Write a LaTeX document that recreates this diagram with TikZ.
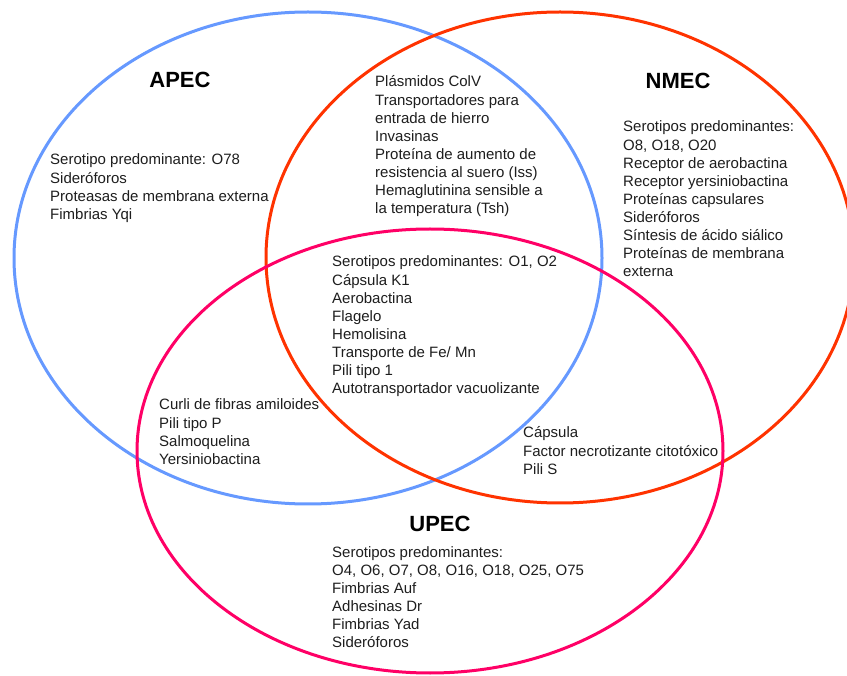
\documentclass[tikz,border=0pt]{standalone}
\usepackage{fontspec}
\setmainfont{Liberation Sans}
\definecolor{apecblue}{RGB}{102,153,255}
\definecolor{nmecred}{RGB}{255,51,0}
\definecolor{upecpink}{RGB}{255,0,102}
\definecolor{txtgray}{RGB}{30,30,30}
\newcommand\blocktext[1]{\parbox[t]{280pt}{\raggedright\fontsize{15}{18.1}\selectfont #1}}
\tikzset{
  ring/.style={line width=3pt},
  listtext/.style={anchor=base west, inner sep=0pt, text=txtgray},
  titletext/.style={anchor=base, inner sep=0pt, font=\bfseries\fontsize{22}{26}\selectfont, text=black}
}
\begin{document}
\begin{tikzpicture}[x=1pt,y=-1pt]
\useasboundingbox (0,0) rectangle (847,676);
\clip (0,0) rectangle (847,676);
\fill[white] (0,0) rectangle (847,676);
% circles
\draw[ring, apecblue] (308,258) ellipse [x radius=294pt, y radius=246pt];
\draw[ring, nmecred] (560,257.5) ellipse [x radius=294pt, y radius=245.5pt];
\draw[ring, upecpink] (430,451) ellipse [x radius=293pt, y radius=222pt];
% titles
\node[titletext] (tapec) at (180,88) {APEC};
\node[titletext] (tnmec) at (678,89) {NMEC};
\node[titletext] (tupec) at (440,531) {UPEC};
% lists
\node[listtext] (lapec) at (50,165) {\blocktext{Serotipo predominante: O78\\Sideróforos\\Proteasas de membrana externa\\Fimbrias Yqi}};
\node[listtext] (lapnm) at (375,87) {\blocktext{Plásmidos ColV\\Transportadores para\\entrada de hierro\\Invasinas\\Proteína de aumento de\\resistencia al suero (Iss)\\Hemaglutinina sensible a\\la temperatura (Tsh)}};
\node[listtext] (lnmec) at (623,132) {\blocktext{Serotipos predominantes:\\O8, O18, O20\\Receptor de aerobactina\\Receptor yersiniobactina\\Proteínas capsulares\\Sideróforos\\Síntesis de ácido siálico\\Proteínas de membrana\\externa}};
\node[listtext] (lall) at (332,267) {\blocktext{Serotipos predominantes: O1, O2\\Cápsula K1\\Aerobactina\\Flagelo\\Hemolisina\\Transporte de Fe/ Mn\\Pili tipo 1\\Autotransportador vacuolizante}};
\node[listtext] (lapup) at (159,410) {\blocktext{Curli de fibras amiloides\\Pili tipo P\\Salmoquelina\\Yersiniobactina}};
\node[listtext] (lnmup) at (523,438) {\blocktext{Cápsula\\Factor necrotizante citotóxico\\Pili S}};
\node[listtext] (lupec) at (332,557) {\blocktext{Serotipos predominantes:\\O4, O6, O7, O8, O16, O18, O25, O75\\Fimbrias Auf\\Adhesinas Dr\\Fimbrias Yad\\Sideróforos}};
\end{tikzpicture}
\end{document}
